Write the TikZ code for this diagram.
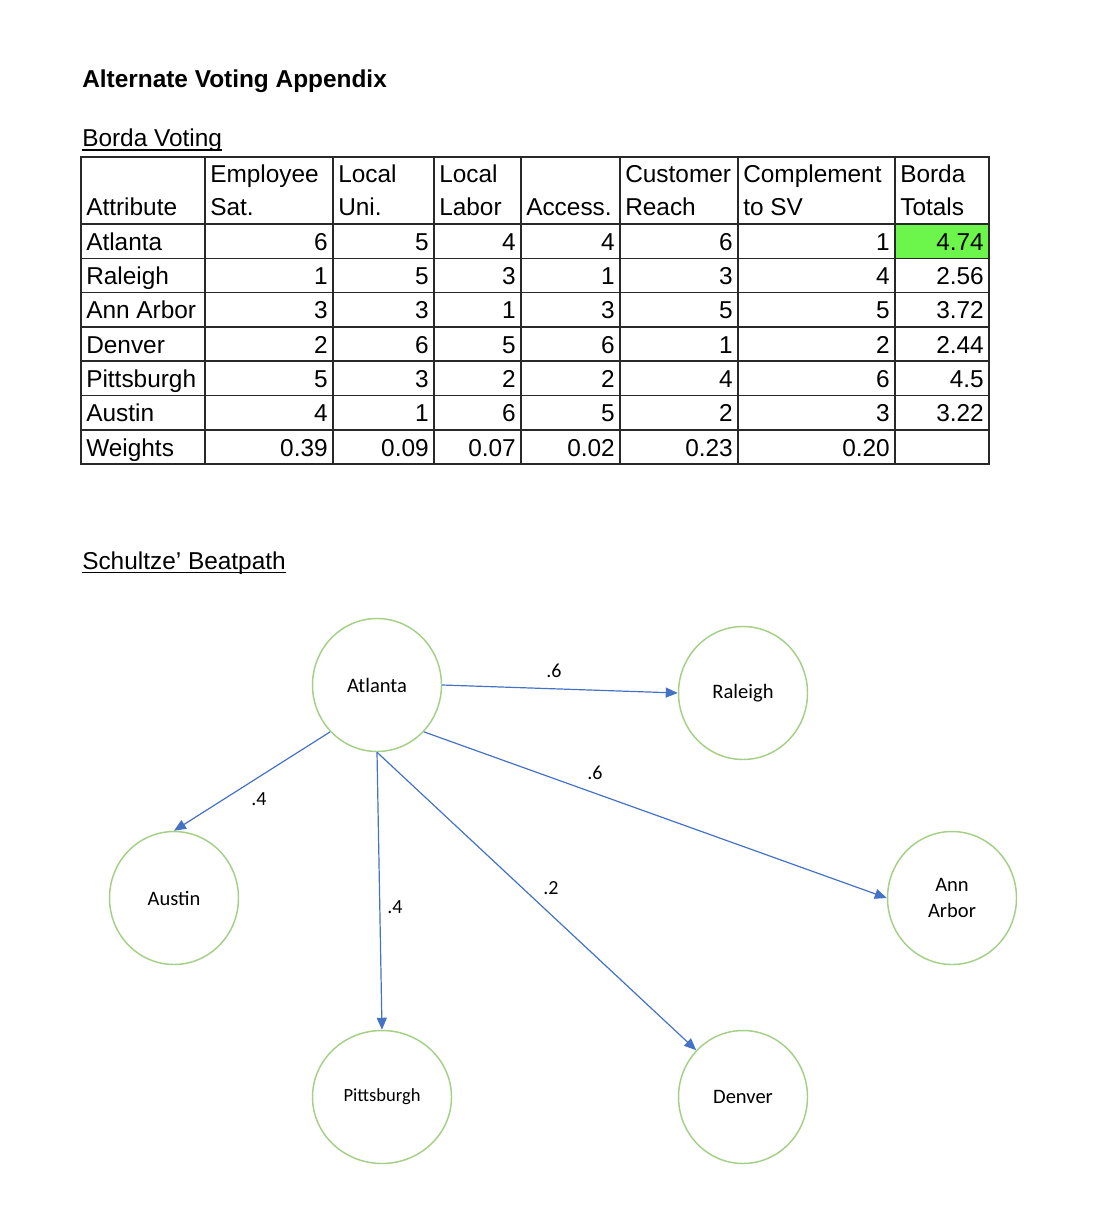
\documentclass[tikz,border=0pt]{standalone}
\usepackage{fontspec}
\setmainfont{Liberation Sans}
\newfontfamily\graphfont{Carlito}
\usepackage{xcolor}
\usetikzlibrary{shapes.geometric,arrows.meta}
\definecolor{cellgreen}{RGB}{108,246,76}
\definecolor{ringgreen}{RGB}{163,207,135}
\definecolor{edgeblue}{RGB}{68,114,196}
\definecolor{gridgray}{RGB}{40,40,40}

\begin{document}
\begin{tikzpicture}[x=0.75pt,y=-0.75pt,
    txt/.style={inner sep=0pt, font=\fontsize{18.3}{22}\selectfont},
    city/.style={ellipse, draw=ringgreen, line width=1.1pt, minimum width=96.75pt, minimum height=99.75pt,
      inner sep=0pt, align=center, font=\graphfont\fontsize{15.4}{19.5}\selectfont},
    beat/.style={draw=edgeblue, line width=0.9pt, -{Triangle[length=9pt,width=7.5pt]}},
    weight/.style={inner sep=0pt, font=\graphfont\fontsize{15}{18}\selectfont}]
    \useasboundingbox (0,0) rectangle (1106,1216);

    % headings
    \node[txt, anchor=base west, font=\bfseries\fontsize{18.3}{22}\selectfont] (title) at (82,88) {Alternate Voting Appendix};
    \node[txt, anchor=base west] (borda) at (82,147) {Borda Voting};
    \draw[line width=1.1pt] ([yshift=-2.2pt]borda.base west) -- ([yshift=-2.2pt]borda.base east);
    \node[txt, anchor=base west] (schulze) at (82,569) {Schultze’ Beatpath};
    \draw[line width=1.1pt] ([yshift=-2.6pt]schulze.base west) -- ([yshift=-2.6pt]schulze.base east);

    % borda table
    \fill[cellgreen] (895,224) rectangle (989,258.3);
    \draw[gridgray, line width=1.1pt] (81,157) rectangle (989,464);
    \foreach \x in {205,333,434,521,620,738,895}
        \draw[gridgray, line width=1.1pt] (\x,157) -- (\x,464);
    \foreach \i in {0,...,6}
        \draw[gridgray, line width=1.1pt] (81,224+34.3*\i) -- (989,224+34.3*\i);
    \foreach \xl/\top/\bot in {86//Attribute, 210/Employee/Sat., 338/Local/Uni., 439/Local/Labor,
        526//Access., 625/Customer/Reach, 743/Complement/to SV, 900/Borda/Totals} {
        \node[txt, anchor=base west] at (\xl,183) {\top};
        \node[txt, anchor=base west] at (\xl,216) {\bot};
    }
    \foreach \city/\a/\b/\c/\d/\e/\f/\tot [count=\i] in {Atlanta/6/5/4/4/6/1/4.74,
        Raleigh/1/5/3/1/3/4/2.56, Ann Arbor/3/3/1/3/5/5/3.72, Denver/2/6/5/6/1/2/2.44,
        Pittsburgh/5/3/2/2/4/6/4.5, Austin/4/1/6/5/2/3/3.22, Weights/0.39/0.09/0.07/0.02/0.23/0.20/{}} {
        \node[txt, anchor=base west] at (86,216+34.3*\i) {\city};
        \foreach \v/\xr in {\a/328,\b/429,\c/516,\d/615,\e/733,\f/890,\tot/984}
            \node[txt, anchor=base east] at (\xr,216+34.3*\i) {\v};
    }

    % beatpath graph
    \node[city] (atl) at (377,685) {Atlanta};
    \node[city] (ral) at (743,693) {Raleigh};
    \node[city] (aus) at (174,898) {Austin};
    \node[city] (ann) at (952,898) {Ann\\Arbor};
    \node[city, minimum width=104.25pt, font=\graphfont\fontsize{13.9}{16}\selectfont] (pit) at (382,1097) {Pittsburgh};
    \node[city] (den) at (743,1097) {Denver};

    \draw[beat] (atl.east) -- (ral.west);
    \draw[beat] (atl.225) -- (aus.north);
    \draw[beat] (atl.south) -- (pit.north);
    \draw[beat] (atl.south) -- (den.135);
    \draw[beat] (atl.-45) -- (ann.west);

    \node[weight] at (554,671) {.6};
    \node[weight] at (595,773) {.6};
    \node[weight] at (259,799) {.4};
    \node[weight] at (395,907) {.4};
    \node[weight] at (551,888) {.2};
\end{tikzpicture}
\end{document}
